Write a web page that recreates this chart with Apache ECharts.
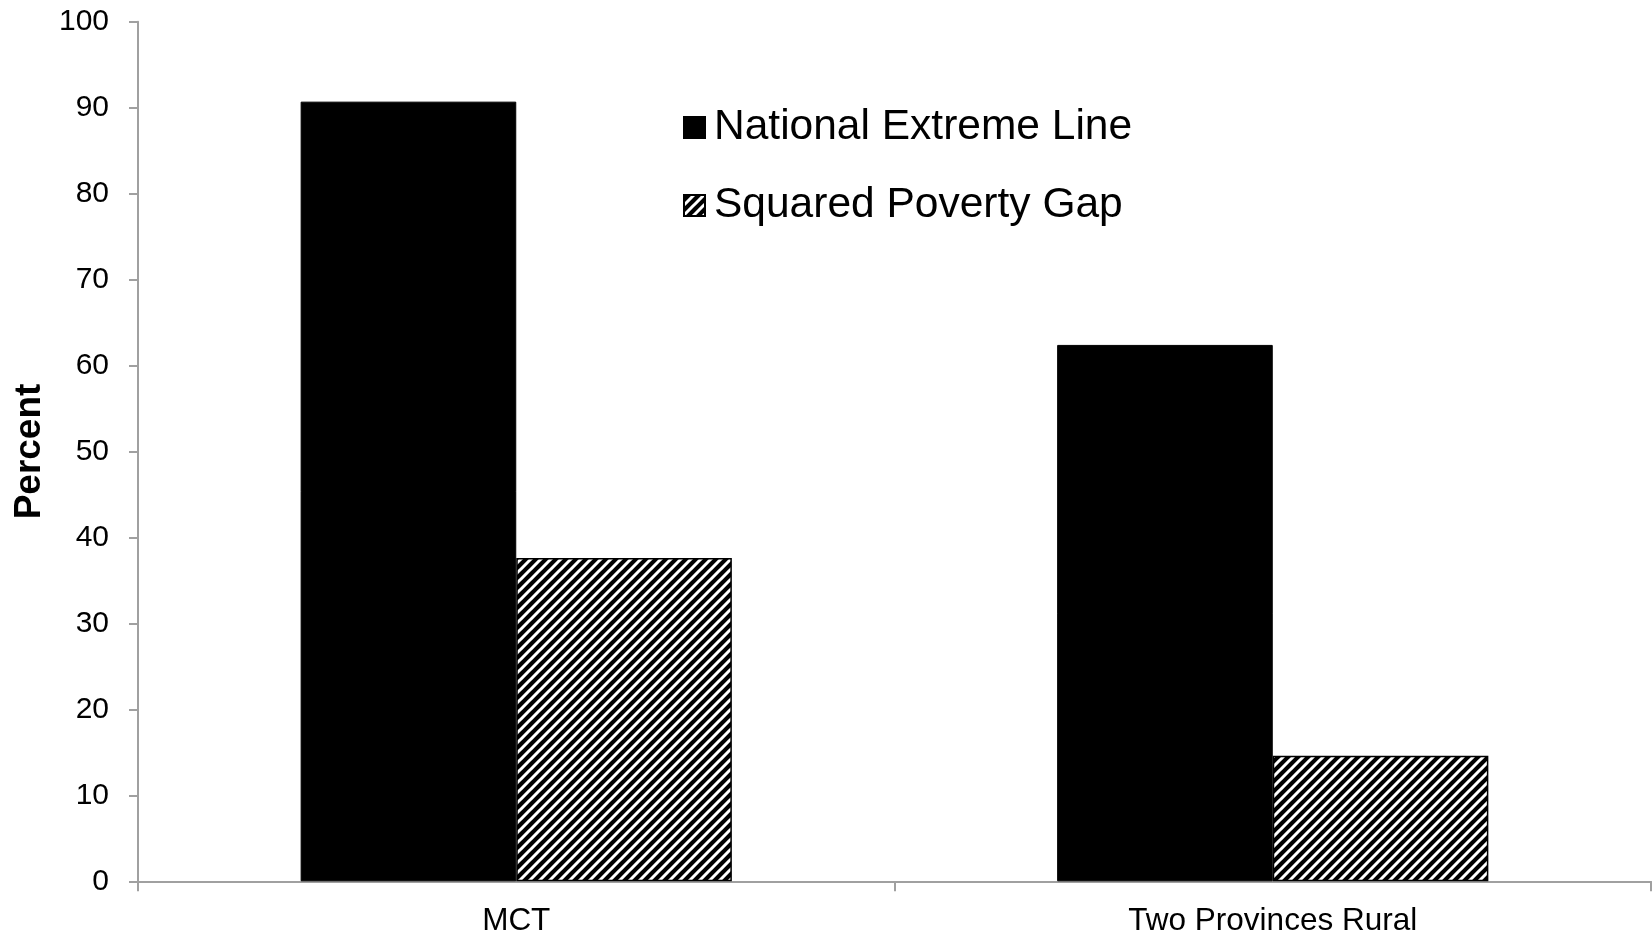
<!DOCTYPE html>
<html>
<head>
<meta charset="utf-8">
<style>
  html, body { margin: 0; padding: 0; background: #fff; }
  #chart { width: 1652px; height: 935px; }
</style>
<script src="https://cdn.jsdelivr.net/npm/echarts@6/dist/echarts.min.js"></script>
</head>
<body>
<div id="chart"></div>
<script>
// Poverty measures by group (percent)
const categories = ['MCT', 'Two Provinces Rural'];
const seriesNames = ['National Extreme Line', 'Squared Poverty Gap'];
const nationalExtreme = [90.7, 62.4];
const squaredGap = [37.6, 14.6];
const yTicks = { min: 0, max: 100, step: 10 };

// Black fill with thin white diagonal stripes
function makeHatch() {
  const n = 10;
  const c = document.createElement('canvas');
  c.width = n; c.height = n;
  const g = c.getContext('2d');
  g.fillStyle = '#000';
  g.fillRect(0, 0, n, n);
  g.strokeStyle = '#fff';
  g.lineWidth = 3;
  g.beginPath();
  g.moveTo(-2, n + 2); g.lineTo(n + 2, -2);
  g.moveTo(-2, 2); g.lineTo(2, -2);
  g.moveTo(n - 2, n + 2); g.lineTo(n + 2, n - 2);
  g.stroke();
  return c;
}

const font = 'Liberation Sans, Arial, sans-serif';
const axisGray = '#a0a0a0';
const chart = echarts.init(document.getElementById('chart'), null, { renderer: 'canvas' });

chart.setOption({
  animation: false,
  backgroundColor: '#fff',
  textStyle: { fontFamily: font },
  grid: {
    left: 138, right: 1, top: 21.7, bottom: 53.7,
    containLabel: false,
    outerBoundsMode: 'none'
  },
  legend: {
    orient: 'vertical',
    left: 678,
    top: 100,
    itemWidth: 21,
    itemHeight: 21,
    itemGap: 33,
    icon: 'rect',
    textStyle: {
      fontFamily: font, fontSize: 42.5, color: '#000', lineHeight: 45,
      padding: [0, 0, 0, 4]
    },
    data: seriesNames
  },
  xAxis: {
    type: 'category',
    data: categories,
    axisLine: { lineStyle: { color: axisGray, width: 2 } },
    axisTick: { show: true, length: 10, lineStyle: { color: axisGray, width: 2 } },
    axisLabel: { color: '#000', fontSize: 31.5, fontFamily: font, margin: 24 }
  },
  yAxis: {
    type: 'value',
    min: yTicks.min,
    max: yTicks.max,
    interval: yTicks.step,
    name: 'Percent',
    nameLocation: 'middle',
    nameRotate: 90,
    nameGap: 89,
    nameTextStyle: { fontSize: 37, fontWeight: 'bold', color: '#000', fontFamily: font },
    axisLine: { show: true, lineStyle: { color: axisGray, width: 2 } },
    axisTick: { show: true, length: 9, lineStyle: { color: axisGray, width: 2 } },
    splitLine: { show: false },
    axisLabel: { color: '#000', fontSize: 30, fontFamily: font, margin: 29 }
  },
  series: [
    {
      name: seriesNames[0],
      type: 'bar',
      data: nationalExtreme,
      barGap: '0%',
      barCategoryGap: '43%',
      itemStyle: { color: '#000', borderColor: '#000', borderWidth: 1 }
    },
    {
      name: seriesNames[1],
      type: 'bar',
      data: squaredGap,
      barGap: '0%',
      barCategoryGap: '43%',
      itemStyle: {
        color: { image: makeHatch(), repeat: 'repeat' },
        borderColor: '#000',
        borderWidth: 1.5
      }
    }
  ]
});
</script>
</body>
</html>
